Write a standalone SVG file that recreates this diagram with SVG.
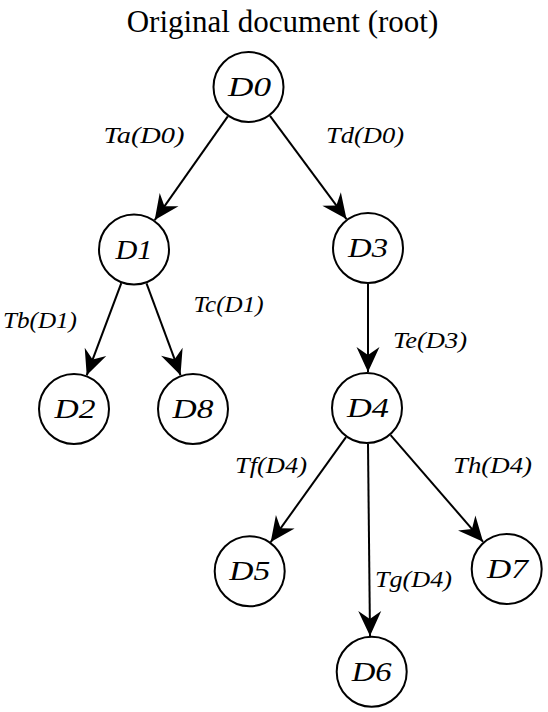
<svg xmlns="http://www.w3.org/2000/svg" width="548" height="712" viewBox="0 0 548 712">
<style>
.node circle{fill:#fff;stroke:#000;stroke-width:2}
.node text{font-family:"Liberation Serif",serif;font-style:italic;font-size:28px;text-anchor:middle;fill:#000}
.edge{stroke:#000;stroke-width:2;fill:none;marker-end:url(#arr)}
.lbl{font-family:"Liberation Serif",serif;font-style:italic;font-size:23px;fill:#000}
.title{font-family:"Liberation Serif",serif;font-size:31px;text-anchor:middle;fill:#000}
</style>
<defs>
<marker id="arr" markerUnits="userSpaceOnUse" markerWidth="26" markerHeight="24" refX="25" refY="12" orient="auto" overflow="visible">
<path d="M0,0.5 L25,12 L0,23.5 L8,12 Z" fill="#000"/>
</marker>
</defs>
<rect width="548" height="712" fill="#fff"/>
<text class="title" x="282.5" y="32">Original document (root)</text>
<g id="connectors">
<line class="edge" x1="227.8" y1="116.4" x2="154.7" y2="220.1"/>
<line class="edge" x1="270" y1="115.9" x2="346.5" y2="219.1"/>
<line class="edge" x1="121.3" y1="283.2" x2="86.7" y2="375.3"/>
<line class="edge" x1="146.5" y1="283.3" x2="180.5" y2="375.2"/>
<line class="edge" x1="368" y1="284" x2="368" y2="372"/>
<line class="edge" x1="346" y1="437.2" x2="270.7" y2="542.1"/>
<line class="edge" x1="368" y1="444" x2="370" y2="636"/>
<line class="edge" x1="390.6" y1="435.2" x2="483.1" y2="541.8"/>
<text class="lbl" x="103.5" y="143" textLength="81" lengthAdjust="spacingAndGlyphs">Ta(D0)</text>
<text class="lbl" x="326" y="143" textLength="78" lengthAdjust="spacingAndGlyphs">Td(D0)</text>
<text class="lbl" x="3" y="328" textLength="74" lengthAdjust="spacingAndGlyphs">Tb(D1)</text>
<text class="lbl" x="193.5" y="311.5" textLength="70" lengthAdjust="spacingAndGlyphs">Tc(D1)</text>
<text class="lbl" x="393" y="348" textLength="74" lengthAdjust="spacingAndGlyphs">Te(D3)</text>
<text class="lbl" x="235" y="473" textLength="72" lengthAdjust="spacingAndGlyphs">Tf(D4)</text>
<text class="lbl" x="453" y="472.5" textLength="79" lengthAdjust="spacingAndGlyphs">Th(D4)</text>
<text class="lbl" x="375" y="586.5" textLength="77" lengthAdjust="spacingAndGlyphs">Tg(D4)</text>
</g>
<g id="D0" class="node"><circle cx="248.5" cy="87" r="35"/><text x="249.5" y="96" textLength="43" lengthAdjust="spacingAndGlyphs">D0</text></g>
<g id="D1" class="node"><circle cx="134" cy="249.5" r="35"/><text x="134" y="258.5" textLength="37" lengthAdjust="spacingAndGlyphs">D1</text></g>
<g id="D3" class="node"><circle cx="368" cy="248" r="35"/><text x="368" y="257" textLength="40" lengthAdjust="spacingAndGlyphs">D3</text></g>
<g id="D2" class="node"><circle cx="74" cy="409" r="35"/><text x="75" y="418" textLength="41" lengthAdjust="spacingAndGlyphs">D2</text></g>
<g id="D8" class="node"><circle cx="193" cy="409" r="35"/><text x="193" y="418" textLength="41" lengthAdjust="spacingAndGlyphs">D8</text></g>
<g id="D4" class="node"><circle cx="367" cy="408" r="35"/><text x="368" y="417" textLength="42" lengthAdjust="spacingAndGlyphs">D4</text></g>
<g id="D5" class="node"><circle cx="249.7" cy="571.3" r="35"/><text x="249.7" y="580.3" textLength="41" lengthAdjust="spacingAndGlyphs">D5</text></g>
<g id="D6" class="node"><circle cx="371.7" cy="671.7" r="35"/><text x="371.7" y="680.7" textLength="40" lengthAdjust="spacingAndGlyphs">D6</text></g>
<g id="D7" class="node"><circle cx="506.7" cy="569" r="35"/><text x="507.5" y="578" textLength="41" lengthAdjust="spacingAndGlyphs">D7</text></g>
</svg>
